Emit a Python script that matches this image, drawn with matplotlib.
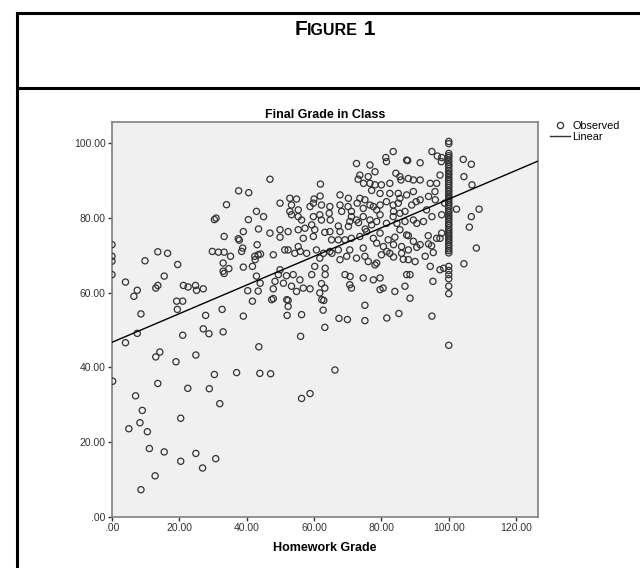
import numpy as np
import matplotlib
matplotlib.use("Agg")
import matplotlib.pyplot as plt
from matplotlib.lines import Line2D

plt.rcParams['font.family'] = ['Liberation Sans', 'DejaVu Sans']

# (homework grade, final grade), grouped by region
pts_low = [
    (0, 72.8), (0, 69.7), (0, 68.4), (0, 64.8), (4.0, 62.8), (7.5, 60.6), (6.5, 59.0), (8.6, 54.3),
    (9.8, 68.5), (13.6, 70.9), (16.5, 70.5), (19.5, 67.5), (15.5, 64.4), (13.6, 61.9), (13.0, 61.2),
    (19.2, 57.7), (21.0, 57.7), (19.4, 55.5), (21.2, 61.9), (22.6, 61.5), (24.8, 61.9), (25.1, 60.6),
    (27.1, 61.0), (27.8, 53.9), (32.7, 55.5), (39.0, 53.7), (30.4, 79.5), (30.9, 79.9), (34.0, 83.5),
    (37.6, 87.2), (40.6, 86.7), (29.8, 71.0), (31.6, 70.8), (33.3, 70.8), (35.2, 69.7), (33.3, 75.0),
    (37.5, 74.4), (37.8, 74.0), (33.0, 67.9), (33.0, 65.7), (33.3, 65.1), (34.7, 66.4), (39.0, 76.3),
    (40.5, 79.5), (38.8, 71.9), (38.5, 71.0), (39.0, 66.8), (41.7, 67.0), (42.9, 81.7), (43.1, 72.8),
    (42.4, 69.7), (43.4, 70.1), (42.9, 64.4), (43.4, 60.4), (41.7, 57.7), (40.3, 60.5),
    (0.2, 36.3), (4.0, 46.6), (7.5, 49.1), (21.0, 48.6), (27.1, 50.3), (28.8, 49.0), (33.0, 49.5),
    (43.6, 45.5), (13.0, 42.8), (14.2, 44.1), (19.0, 41.5), (24.9, 43.3), (13.6, 35.7), (30.4, 38.1),
    (37.0, 38.6), (43.9, 38.4), (22.5, 34.4), (28.9, 34.3), (32.0, 30.3), (7.0, 32.4), (9.0, 28.5),
    (5.0, 23.6), (8.3, 25.2), (10.5, 22.8), (20.4, 26.4), (11.1, 18.3), (15.5, 17.4), (20.4, 14.9),
    (24.9, 17.0), (26.9, 13.1), (30.8, 15.6), (12.8, 11.0), (8.6, 7.3),
]

pts_mid = [
    (46.9, 90.3), (45.0, 80.3), (43.5, 77.0), (46.9, 75.9), (49.9, 76.8), (42.5, 68.8), (44.0, 62.5),
    (47.9, 70.1), (49.4, 64.8), (48.4, 63.0), (47.9, 58.4), (47.9, 61.0), (44.1, 70.3),
    (47.4, 58.1), (52.3, 57.9), (52.3, 56.3), (62.9, 57.9), (75.1, 56.6), (52.0, 53.9), (56.3, 54.1),
    (62.7, 55.3), (67.4, 53.1), (69.9, 52.8), (75.1, 52.5), (85.2, 54.4), (56.0, 48.3), (63.2, 50.7),
    (47.1, 38.3), (66.2, 39.3), (56.3, 31.7), (58.8, 33.0), (81.6, 53.2),
    (83.5, 97.7), (81.3, 96.1), (81.5, 95.0), (72.6, 94.5), (76.6, 94.1), (78.1, 92.3), (76.1, 91.0),
    (73.6, 91.4), (73.1, 90.3), (87.5, 95.4), (84.3, 91.9), (85.5, 91.0), (61.9, 89.0), (76.6, 89.2),
    (78.1, 88.8), (80.0, 88.8), (82.5, 89.2), (77.1, 87.3), (79.6, 86.5), (82.5, 86.5), (85.0, 86.5),
    (85.5, 85.2), (87.5, 86.1), (67.7, 86.1), (70.2, 85.2), (73.6, 85.2), (75.1, 84.8), (72.8, 83.9),
    (74.6, 82.5), (76.6, 83.4), (77.6, 83.0), (79.6, 83.4), (81.5, 84.3), (83.5, 83.4), (85.0, 83.9),
    (67.7, 83.4), (68.2, 81.7), (70.1, 83.0), (71.1, 81.7), (71.1, 80.3), (70.6, 79.0), (72.6, 79.4),
    (74.6, 80.3), (76.6, 79.4), (77.1, 78.1), (78.6, 82.1), (79.6, 80.8), (78.6, 79.0), (81.5, 78.5),
    (83.5, 80.3), (85.5, 81.2), (87.0, 81.7), (49.9, 83.9), (52.8, 85.2), (54.8, 85.0), (53.3, 83.4),
    (55.3, 82.1), (52.8, 81.7), (53.3, 80.8), (55.3, 80.3), (56.3, 79.4), (58.8, 83.0), (59.8, 83.9),
    (62.2, 83.4), (64.7, 83.0), (64.5, 81.2), (61.7, 80.8), (59.8, 80.3), (62.2, 79.4), (59.3, 78.1),
    (57.3, 77.2), (55.3, 76.8), (52.3, 76.3), (49.9, 74.8), (60.2, 76.8), (63.2, 76.1), (65.2, 74.1),
    (67.7, 76.3), (64.7, 76.3), (67.2, 74.1), (69.2, 74.1), (71.1, 74.5), (73.6, 75.0), (75.6, 76.3),
    (77.6, 74.5), (79.6, 75.9), (82.0, 74.1), (84.0, 74.8), (85.5, 76.8), (87.5, 75.4), (51.3, 71.4),
    (52.3, 71.4), (55.3, 72.3), (54.3, 70.5), (60.7, 71.4), (61.7, 69.2), (60.2, 67.0), (64.7, 71.0),
    (67.2, 71.4), (67.7, 68.8), (70.6, 71.4), (69.7, 69.7), (72.6, 69.2), (75.1, 69.7), (74.6, 71.9),
    (78.1, 67.4), (78.6, 67.9), (80.0, 70.1), (82.5, 70.5), (86.0, 70.5), (88.0, 71.4), (49.9, 66.1),
    (51.8, 64.5), (53.8, 64.8), (55.8, 63.4), (53.3, 61.7), (54.8, 60.3), (59.3, 64.8), (62.2, 62.4),
    (63.2, 61.2), (61.7, 59.9), (69.2, 64.8), (70.6, 62.1), (71.1, 61.2), (74.6, 63.9), (79.6, 63.9),
    (80.5, 61.2), (84.0, 60.3), (87.0, 61.7), (87.5, 64.8),
    (78.6, 73.2), (80.6, 72.3), (83.6, 72.8), (86.0, 72.3), (57.8, 70.5), (65.3, 70.5), (76.1, 68.3),
    (83.6, 69.5), (86.5, 68.9), (56.8, 61.2), (58.8, 61.0), (63.3, 66.5), (63.3, 64.8), (70.7, 64.3),
    (77.6, 63.4), (51.9, 58.1), (62.3, 58.1), (79.6, 60.8), (85.8, 90.1), (74.7, 89.2), (83.6, 81.7),
    (84.6, 78.5), (87.0, 79.0), (56.8, 74.5), (59.8, 75.0), (60.0, 85.0), (61.8, 85.8), (64.8, 79.4),
    (67.2, 77.8), (70.2, 77.7), (73.2, 78.7), (75.2, 77.0), (55.9, 71.0), (62.8, 70.5), (81.6, 71.0),
    (50.9, 62.5),
]

pts_high = [
    (89.5, 90.1), (91.5, 90.1), (91.5, 94.7), (95.0, 97.7), (96.6, 96.5), (97.9, 96.1), (97.4, 91.4),
    (96.4, 89.2), (94.5, 89.2), (88.0, 90.5), (89.5, 87.0), (91.5, 84.8), (94.0, 85.7), (96.0, 84.8),
    (89.0, 83.4), (90.3, 84.3), (89.5, 79.4), (90.5, 78.5), (92.5, 79.0), (95.0, 80.3), (97.9, 80.8),
    (89.5, 73.7), (90.5, 72.1), (91.5, 72.8), (94.0, 73.0), (94.9, 72.5), (97.4, 74.5), (97.9, 75.9),
    (90.0, 68.3), (93.0, 69.7), (94.5, 67.0), (97.4, 66.1), (98.5, 66.5), (95.3, 63.0), (95.0, 53.7),
    (88.5, 64.8), (88.5, 58.5), (88.0, 75.2), (88.0, 68.8), (87.8, 95.3), (95.9, 87.0), (98.8, 83.9),
    (93.4, 82.1), (93.9, 75.2), (96.4, 74.5), (95.4, 70.7), (97.8, 95.0),
    (104.3, 95.6), (106.7, 94.3), (104.5, 91.0), (106.9, 88.8), (102.3, 82.3), (109.0, 82.3),
    (106.7, 80.3), (106.1, 77.5), (108.2, 71.9), (104.5, 67.7),
]

# students with a full homework score (100)
final_full_hw = [
    100.4, 99.8, 97.2, 96.6, 96.1, 95.4, 94.9, 94.2, 93.8, 93.1, 92.6, 91.9, 91.5, 90.8, 90.3,
    89.7, 89.2, 88.6, 88.1, 87.4, 87.0, 86.3, 85.8, 85.2, 84.7, 84.1, 83.6, 83.0, 82.5, 81.8,
    81.4, 80.7, 80.2, 79.6, 79.1, 78.4, 78.0, 77.3, 76.8, 76.2, 75.7, 75.1, 74.6, 74.0, 73.5,
    72.8, 72.4, 71.7, 71.2, 70.6, 67.0, 65.9, 64.8, 63.7, 61.7, 59.7, 45.9,
]

# linear fit shown in the chart
fit_intercept = 46.7
fit_slope = 0.383

xticks = [0, 20, 40, 60, 80, 100, 120]
yticks = [0, 20, 40, 60, 80, 100]

pts = np.array(pts_low + pts_mid + pts_high)
homework = np.concatenate([pts[:, 0], np.full(len(final_full_hw), 100.0)])
final = np.concatenate([pts[:, 1], final_full_hw])

W, H = 640, 568
fig = plt.figure(figsize=(W / 100, H / 100), dpi=100)

# outer frame of the figure box
lw = 2.2
fig.add_artist(Line2D([17 / W, 17 / W], [0, 1 - 13 / H], color='black', lw=lw))
fig.add_artist(Line2D([17 / W, 1], [1 - 13 / H, 1 - 13 / H], color='black', lw=lw))
fig.add_artist(Line2D([17 / W, 1], [1 - 88 / H, 1 - 88 / H], color='black', lw=lw))

# "FIGURE 1" in small caps
parts = [("F", 15), ("IGURE", 11.5), (" 1", 15)]
y_base = 1 - 35 / H
texts = [fig.text(0, y_base, s, fontsize=fs, fontweight='bold', va='baseline', ha='left')
         for s, fs in parts]
r = fig.canvas.get_renderer()
widths = [t.get_window_extent(r).width / W for t in texts]
x = 335 / W - sum(widths) / 2
for t, w in zip(texts, widths):
    t.set_x(x)
    x += w

ax = fig.add_axes([112 / W, 1 - 517 / H, (538 - 112) / W, (517 - 122) / H])
ax.set_facecolor('#f0f0f0')
for s in ax.spines.values():
    s.set_color('#808080')
    s.set_linewidth(1.2)

ax.scatter(homework, final, s=20, facecolors='none', edgecolors='#333333', linewidths=0.9,
           label='Observed', zorder=3)
xs = np.array([0, 126.5])
ax.plot(xs, fit_intercept + fit_slope * xs, color='black', lw=1.0, label='Linear', zorder=4)

ax.set_xlim(0, 126.5)
ax.set_ylim(0, 105.6)
ax.set_xticks(xticks)
ax.set_yticks(yticks)
fmt = lambda v: '.00' if v == 0 else f'{v:.2f}'
ax.set_xticklabels([fmt(v) for v in xticks])
ax.set_yticklabels([fmt(v) for v in yticks])
ax.tick_params(direction='out', length=3, width=1, color='#333333', labelsize=7.5,
               labelcolor='#333333', pad=1.5)

ax.set_title('Final Grade in Class', fontsize=9, fontweight='bold', pad=3)
ax.set_xlabel('Homework Grade', fontsize=9, fontweight='bold', labelpad=6)

handles = [Line2D([], [], marker='o', ls='none', mfc='none', mec='#333333', ms=4.5, mew=0.9),
           Line2D([], [], color='#333333', lw=1.0)]
fig.legend(handles, ['Observed', 'Linear'], loc='upper left', bbox_to_anchor=(550 / W, 1 - 121 / H),
           frameon=False, fontsize=7.8, handlelength=1.8, handletextpad=0.25, labelspacing=0.1,
           borderpad=0, borderaxespad=0)

fig.savefig('out.png', dpi=100)
